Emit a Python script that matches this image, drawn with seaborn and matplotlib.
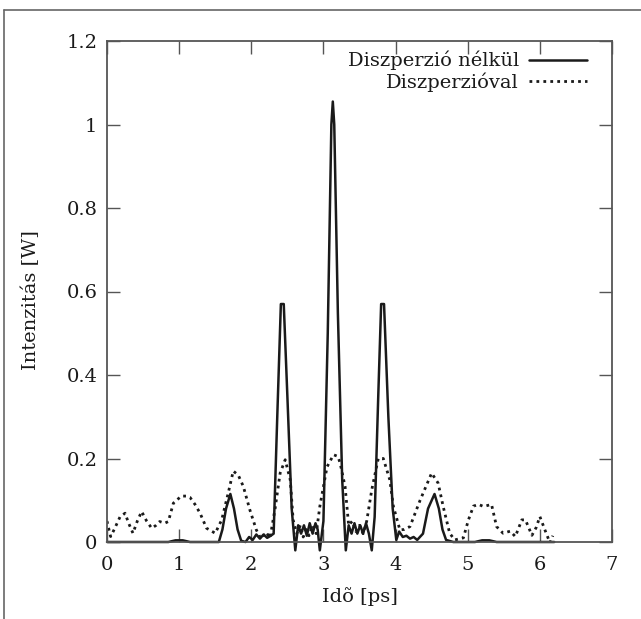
import matplotlib
matplotlib.use("Agg")
import matplotlib.pyplot as plt
from matplotlib.lines import Line2D
import numpy as np
import pandas as pd
import seaborn as sns

# --- data ---
x_nodisp = [0.0, 0.85, 0.95, 1.05, 1.15, 1.55, 1.6, 1.65, 1.71, 1.76, 1.81, 1.86, 1.92,
            1.97, 2.02, 2.07, 2.12, 2.17, 2.22, 2.27, 2.31, 2.36, 2.41, 2.45, 2.5, 2.56,
            2.61, 2.65, 2.69, 2.73, 2.77, 2.81, 2.85, 2.89, 2.92, 2.95, 3.0, 3.06, 3.11,
            3.13, 3.15, 3.2, 3.26, 3.31, 3.35, 3.39, 3.43, 3.47, 3.51, 3.55, 3.59, 3.63,
            3.67, 3.71, 3.76, 3.8, 3.84, 3.9, 3.96, 4.01, 4.05, 4.1, 4.15, 4.2, 4.25, 4.3,
            4.38, 4.45, 4.54, 4.6, 4.65, 4.7, 4.8, 5.1, 5.2, 5.3, 5.4, 6.2]
y_nodisp = [0.0, 0.0, 0.004, 0.004, 0.0, 0.0, 0.03, 0.08, 0.115, 0.08, 0.03, 0.003, 0.0,
            0.012, 0.005, 0.018, 0.008, 0.018, 0.01, 0.015, 0.02, 0.3, 0.57, 0.57, 0.35, 0.08,
            -0.02, 0.04, 0.02, 0.04, 0.015, 0.045, 0.02, 0.045, 0.03, -0.02, 0.05, 0.5, 1.0,
            1.055, 1.0, 0.55, 0.15, -0.02, 0.04, 0.02, 0.045, 0.02, 0.04, 0.02, 0.045, 0.02,
            -0.02, 0.06, 0.35, 0.57, 0.57, 0.3, 0.08, 0.005, 0.025, 0.012, 0.015, 0.008, 0.012,
            0.005, 0.02, 0.08, 0.115, 0.08, 0.03, 0.005, 0.0, 0.0, 0.004, 0.004, 0.0, 0.0]

x_disp = [0.0, 0.05, 0.1, 0.18, 0.25, 0.3, 0.36, 0.42, 0.48, 0.55, 0.62, 0.68, 0.73, 0.8,
          0.85, 0.92, 1.03, 1.1, 1.15, 1.22, 1.29, 1.38, 1.5, 1.59, 1.68, 1.75, 1.82, 1.89,
          1.98, 2.07, 2.12, 2.16, 2.2, 2.23, 2.26, 2.33, 2.4, 2.47, 2.54, 2.58, 2.63, 2.68,
          2.72, 2.76, 2.8, 2.85, 2.9, 2.95, 3.05, 3.14, 3.2, 3.23, 3.3, 3.35, 3.4, 3.45,
          3.5, 3.55, 3.6, 3.67, 3.76, 3.83, 3.92, 3.97, 4.06, 4.12, 4.2, 4.34, 4.5, 4.59,
          4.66, 4.75, 4.82, 4.94, 5.01, 5.08, 5.15, 5.22, 5.33, 5.4, 5.49, 5.59, 5.66, 5.75,
          5.8, 5.89, 5.95, 6.0, 6.07, 6.14, 6.18]
y_disp = [0.05, 0.013, 0.03, 0.06, 0.069, 0.045, 0.021, 0.05, 0.073, 0.05, 0.033, 0.04, 0.049,
          0.045, 0.049, 0.093, 0.11, 0.11, 0.107, 0.09, 0.069, 0.033, 0.021, 0.053, 0.117,
          0.17, 0.16, 0.133, 0.077, 0.029, 0.012, 0.02, 0.01, 0.018, 0.01, 0.08, 0.165, 0.197,
          0.149, 0.053, 0.02, 0.04, 0.012, 0.03, 0.015, 0.04, 0.02, 0.085, 0.18, 0.209, 0.205,
          0.19, 0.133, 0.04, 0.05, 0.025, 0.04, 0.02, 0.05, 0.125, 0.2, 0.2, 0.149, 0.085,
          0.029, 0.03, 0.037, 0.1, 0.165, 0.141, 0.085, 0.021, 0.005, 0.01, 0.053, 0.086,
          0.09, 0.085, 0.09, 0.037, 0.021, 0.026, 0.013, 0.053, 0.053, 0.016, 0.035, 0.061,
          0.029, -0.002, 0.015]

label_nodisp = "Diszperzió nélkül"
label_disp = "Diszperzióval"
x_ticks = [0, 1, 2, 3, 4, 5, 6, 7]
y_ticks = [0, 0.2, 0.4, 0.6, 0.8, 1.0, 1.2]
y_ticklabels = ["0", "0.2", "0.4", "0.6", "0.8", "1", "1.2"]
x_label = "Idõ [ps]"
y_label = "Intenzitás [W]"

df1 = pd.DataFrame({"t": x_nodisp, "I": y_nodisp})
df2 = pd.DataFrame({"t": x_disp, "I": y_disp})

sns.set_style("ticks")
plt.rcParams["font.family"] = ["DejaVu Serif", "Liberation Serif"]
plt.rcParams["axes.edgecolor"] = "#555555"

FS = 14

fig = plt.figure(figsize=(6.41, 6.19), dpi=100)
ax = fig.add_axes([107 / 641, 1 - 542 / 619, 505 / 641, 501 / 619])

sns.lineplot(data=df1, x="t", y="I", ax=ax, sort=False, estimator=None,
             color="#1a1a1a", linewidth=1.8, label=label_nodisp, clip_on=False)
sns.lineplot(data=df2, x="t", y="I", ax=ax, sort=False, estimator=None,
             color="#1a1a1a", linewidth=2.0, linestyle=(0, (1, 1.5)), label=label_disp)

ax.set_xlim(0, 7)
ax.set_ylim(0, 1.2)
ax.set_xticks(x_ticks)
ax.set_xticklabels([str(v) for v in x_ticks])
ax.set_yticks(y_ticks)
ax.set_yticklabels(y_ticklabels)
for s in ax.spines.values():
    s.set_linewidth(1.3)
    s.set_color("#555555")
ax.tick_params(axis="both", which="major", direction="in", length=9.5, width=1.0,
               color="#555555", top=True, right=True, labelsize=FS, labelcolor="#1a1a1a")
ax.tick_params(axis="x", pad=10)
ax.tick_params(axis="y", pad=7)

ax.set_xlabel(x_label, fontsize=FS, color="#1a1a1a")
ax.set_ylabel(y_label, fontsize=FS, color="#1a1a1a")
ax.xaxis.set_label_coords((360 - 107) / 505, (542 - 597) / 501)
ax.yaxis.set_label_coords((31 - 107) / 505, (542 - 300) / 501)
ax.xaxis.label.set_va("center")
ax.yaxis.label.set_va("center")

leg = ax.legend(loc="upper right", bbox_to_anchor=((587 - 107) / 505, (542 - 51) / 501),
                frameon=False, markerfirst=False, fontsize=FS, handlelength=3.0,
                handletextpad=0.5, labelspacing=0.1, borderpad=0, borderaxespad=0)
for t in leg.get_texts():
    t.set_color("#1a1a1a")

# outer frame (left and top only, as in the reference)
fig.add_artist(Line2D([4 / 641, 4 / 641], [0, 1 - 10 / 619], transform=fig.transFigure,
                      color="#666666", linewidth=1.2))
fig.add_artist(Line2D([4 / 641, 1], [1 - 10 / 619, 1 - 10 / 619], transform=fig.transFigure,
                      color="#666666", linewidth=1.2))

fig.savefig("out.png", dpi=100)
